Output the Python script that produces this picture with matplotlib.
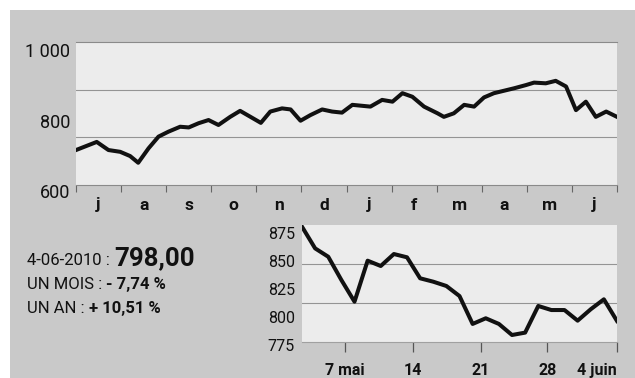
import matplotlib
matplotlib.use("Agg")
import numpy as np
import matplotlib.pyplot as plt
import matplotlib.transforms as mtransforms
from matplotlib.patches import Rectangle

plt.rcParams['font.family'] = ['Roboto', 'DejaVu Sans']

# --- one year, weekly closes (x = months since start of June 2009) ---
year_pos = [0.0, 0.46, 0.72, 0.98, 1.2, 1.38, 1.61, 1.83, 2.05, 2.31, 2.5, 2.72,
            2.94, 3.16, 3.42, 3.64, 3.87, 4.1, 4.31, 4.57, 4.76, 4.98, 5.2, 5.46,
            5.68, 5.9, 6.13, 6.53, 6.79, 7.02, 7.24, 7.46, 7.72, 8.02, 8.16, 8.38,
            8.61, 8.83, 9.05, 9.27, 9.72, 9.98, 10.16, 10.42, 10.64, 10.87, 11.09,
            11.31, 11.53, 11.76, 12.0]
year_vals = [722, 745, 722, 717, 705, 686, 727, 760, 774, 788, 786, 798,
             807, 793, 816, 833, 816, 799, 831, 840, 837, 805, 821, 837,
             831, 828, 850, 845, 864, 859, 883, 873, 845, 826, 816, 826,
             850, 845, 871, 883, 897, 906, 913, 911, 918, 902, 835,
             859, 816, 831, 816]
month_labels = ['j', 'a', 's', 'o', 'n', 'd', 'j', 'f', 'm', 'a', 'm', 'j']
year_ticks = [600, 800, 1000]
year_tick_labels = ['600', '800', '1 000']

# --- last month, daily closes from 3 May to 4 June 2010 ---
day_vals = [881.5, 862.3, 854.9, 834.3, 815.1, 851.4, 846.7, 857.3, 854.4,
            835.8, 832.8, 829.0, 820.1, 795.4, 800.4, 795.4, 785.6, 787.7,
            811.3, 807.7, 807.7, 798.3, 808.4, 817.2, 798.0]
day_labels = ['7 mai', '14', '21', '28', '4 juin']
day_ticks = [775, 800, 825, 850, 875]

W, H = 635, 378
BG = '#c9c9c9'
PANEL = '#ececec'
GRID = '#949494'
INK = '#111111'

fig = plt.figure(figsize=(W / 100, H / 100), dpi=100)
fig.patch.set_facecolor('white')
fig.add_artist(Rectangle((10 / W, 0), 1 - 10 / W, 1 - 10 / H,
                         transform=fig.transFigure, facecolor=BG,
                         edgecolor='none', zorder=-10))


def thirds(ax):
    lo, hi = ax.get_ylim()
    for f in (1 / 3, 2 / 3):
        ax.axhline(lo + f * (hi - lo), color=GRID, lw=0.8, zorder=1)


# ---- yearly chart ----
ax1 = fig.add_axes([76 / W, 1 - 185 / H, 541 / W, 143 / H])
ax1.set_facecolor(PANEL)
ax1.plot(year_pos, year_vals, color=INK, lw=2.9,
         solid_joinstyle='round', zorder=3)
ax1.set_xlim(0, 12)
ax1.set_ylim(623, 1028)
thirds(ax1)
for s in ('left', 'right'):
    ax1.spines[s].set_visible(False)
for s in ('top', 'bottom'):
    ax1.spines[s].set_color('#8a8a8a')
    ax1.spines[s].set_linewidth(0.8)

ax1.set_xticks(range(13))
ax1.set_xticklabels([])
ax1.tick_params(axis='x', which='major', direction='out', length=5,
                width=0.8, color='#666666')
ax1.set_xticks(np.arange(12) + 0.5, minor=True)
ax1.set_xticklabels(month_labels, minor=True, fontsize=12.5,
                    fontweight='bold', color=INK)
ax1.tick_params(axis='x', which='minor', length=0, pad=9)
ax1.set_yticks([])
tr1 = mtransforms.blended_transform_factory(ax1.transAxes, ax1.transData)
for v, s in zip(year_ticks, year_tick_labels):
    ax1.text(-6 / 541, v, s, transform=tr1, ha='right', va='center',
             fontsize=13, color=INK, clip_on=False)

# ---- monthly chart ----
ax2 = fig.add_axes([302 / W, 1 - 342 / H, 315 / W, 117 / H])
ax2.set_facecolor(PANEL)
ax2.plot(range(len(day_vals)), day_vals, color=INK, lw=2.9,
         solid_joinstyle='round', zorder=3)
ax2.set_xlim(0, len(day_vals) - 1)
ax2.set_ylim(779.4, 883)
thirds(ax2)
for s in ('left', 'right', 'top'):
    ax2.spines[s].set_visible(False)
ax2.spines['bottom'].set_color('#a0a0a0')
ax2.spines['bottom'].set_linewidth(0.8)

ax2.set_xticks([3.25, 8.45, 13.6, 18.7, 24])
ax2.set_xticklabels(day_labels, fontsize=11.5, fontweight='bold', color=INK)
ax2.get_xticklabels()[-1].set_ha('right')
ax2.tick_params(axis='x', direction='out', length=7, width=0.9,
                color='#555555', pad=8)
ax2.set_yticks([])
tr2 = mtransforms.blended_transform_factory(ax2.transAxes, ax2.transData)
for v in day_ticks:
    ax2.text(-7 / 315, v, str(v), transform=tr2, ha='right', va='center',
             fontsize=11.5, color=INK, clip_on=False)

# ---- key figures ----
renderer = fig.canvas.get_renderer()


def write_line(x, y, parts):
    for s, size, weight in parts:
        t = fig.text(x / W, 1 - y / H, s, fontsize=size, fontweight=weight,
                     color=INK, va='baseline', ha='left')
        x = t.get_window_extent(renderer).x1


write_line(27, 265, [('4-06-2010 : ', 12, 'normal'), ('798,00', 18.5, 'bold')])
write_line(27, 289, [('UN MOIS : ', 12, 'normal'), ('- 7,74 %', 12, 'bold')])
write_line(27, 313, [('UN AN : ', 12, 'normal'), ('+ 10,51 %', 12, 'bold')])

fig.savefig('out.png', dpi=100)
